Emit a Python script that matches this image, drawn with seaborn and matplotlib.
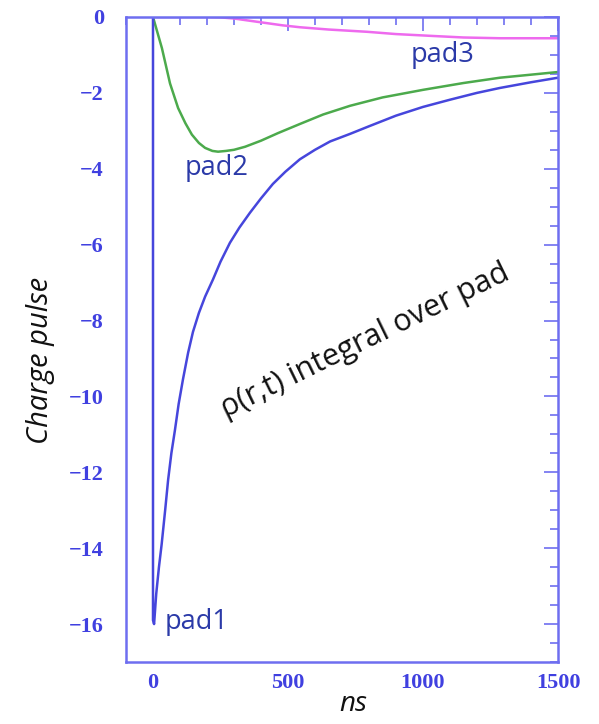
import numpy as np
import pandas as pd
import matplotlib
matplotlib.use("Agg")
import matplotlib.pyplot as plt
from matplotlib.ticker import MultipleLocator, FuncFormatter
import seaborn as sns

# ---- data ----
pad1_x = [0, 0, 4, 12, 22, 32, 45, 56, 68, 81, 95, 111, 130, 148, 170, 193, 222, 250, 285, 320, 359,
          400, 444, 490, 544, 600, 656, 730, 800, 900, 1000, 1100, 1200, 1285, 1400, 1500]
pad1_y = [0, -15.9, -16.0, -15.2, -14.5, -13.9, -13.0, -12.2, -11.5, -10.9, -10.2, -9.55, -8.85, -8.3,
          -7.8, -7.37, -6.92, -6.45, -5.95, -5.55, -5.16, -4.78, -4.4, -4.08, -3.75, -3.5, -3.28, -3.08,
          -2.88, -2.6, -2.37, -2.18, -2.0, -1.87, -1.72, -1.6]
pad2_x = [0, 33, 63, 93, 120, 144, 170, 193, 220, 241, 270, 300, 341, 400, 463, 544, 630, 730, 850,
          1000, 1150, 1285, 1400, 1500]
pad2_y = [0, -0.82, -1.75, -2.4, -2.8, -3.1, -3.32, -3.45, -3.53, -3.55, -3.53, -3.5, -3.42, -3.26,
          -3.06, -2.82, -2.57, -2.34, -2.12, -1.92, -1.74, -1.6, -1.52, -1.45]
pad3_x = [0, 200, 250, 300, 350, 400, 480, 544, 650, 793, 900, 1037, 1150, 1285, 1400, 1500]
pad3_y = [0, 0, -0.01, -0.04, -0.09, -0.14, -0.22, -0.27, -0.33, -0.39, -0.45, -0.5, -0.54, -0.56,
          -0.56, -0.56]
series = ["pad1", "pad2", "pad3"]
x_ticks = [0, 500, 1000, 1500]
y_ticks = [0, -2, -4, -6, -8, -10, -12, -14, -16]

rows = []
for name, xs, ys in zip(series, [pad1_x, pad2_x, pad3_x], [pad1_y, pad2_y, pad3_y]):
    for i, (xv, yv) in enumerate(zip(xs, ys)):
        rows.append({"series": name, "ns": xv, "charge": yv, "order": i})
df = pd.DataFrame(rows)

sns.set_style("white")
plt.rcParams['font.family'] = ['Open Sans', 'DejaVu Sans']

fig = plt.figure(figsize=(5.99, 7.24), dpi=100)
ax = fig.add_axes([126/599, 1 - 662/724, (558-126)/599, (662-17)/724])

palette = {"pad1": "#4646dc", "pad2": "#4caa4c", "pad3": "#ee6aee"}
for name in series[::-1]:
    sub = df[df["series"] == name]
    sns.lineplot(data=sub, x="ns", y="charge", ax=ax, color=palette[name],
                 estimator=None, sort=False, lw=1.8, legend=False,
                 solid_joinstyle="round", solid_capstyle="round")

axis_col = "#6e6ef0"
lab_col = "#4040e0"
ax.set_xlim(-100, 1500)
ax.set_ylim(-17, 0)
ax.xaxis.set_minor_locator(MultipleLocator(100))
ax.yaxis.set_minor_locator(MultipleLocator(0.5))
ax.set_xticks(x_ticks)
ax.set_yticks(y_ticks)
fmt = FuncFormatter(lambda v, p: f"{v:.0f}".replace("-", "\u2212"))
ax.xaxis.set_major_formatter(fmt)
ax.yaxis.set_major_formatter(fmt)
for sp in ax.spines.values():
    sp.set_visible(True)
    sp.set_color(axis_col)
    sp.set_linewidth(1.8)
ax.tick_params(which="both", direction="in", top=True, right=True, color=axis_col, width=1.2)
ax.tick_params(which="major", length=10)
ax.tick_params(which="minor", length=5.5)
ax.tick_params(axis="y", which="major", pad=16)
ax.tick_params(axis="x", which="major", pad=8)
for lbl in ax.get_xticklabels() + ax.get_yticklabels():
    lbl.set_family("Liberation Serif")
    lbl.set_fontweight("bold")
    lbl.set_fontsize(16)
    lbl.set_color(lab_col)
ax.set_xlabel("")
ax.set_ylabel("")

fig.text(41/599, 1 - 360/724, "Charge pulse", rotation=90, style="italic", fontsize=21,
         ha="center", va="center", color="#111111")
fig.text(353/599, 1 - 704/724, "ns", style="italic", fontsize=20, ha="center", va="center", color="#111111")

pad_col = "#2b3aa8"
ax.text(42, -15.95, "pad1", fontsize=19.5, color=pad_col, ha="left", va="center")
ax.text(117, -3.97, "pad2", fontsize=19.5, color=pad_col, ha="left", va="center")
ax.text(955, -1.0, "pad3", fontsize=19.5, color=pad_col, ha="left", va="center")
ax.text(785, -8.55, "\u03c1(r,t) integral over pad", fontsize=22, color="#111111",
        rotation=26, ha="center", va="center", rotation_mode="anchor")

fig.savefig("out.png", dpi=100)
